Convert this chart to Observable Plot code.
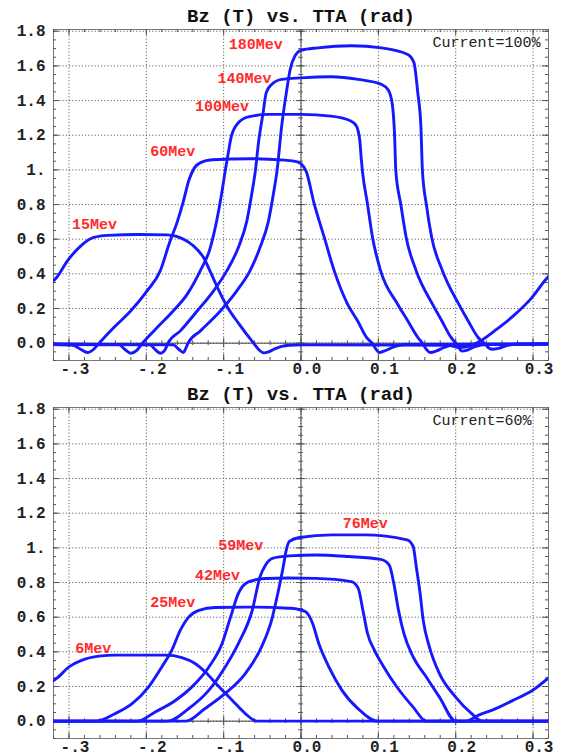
<!DOCTYPE html>
<html>
<head>
<meta charset="utf-8">
<script src="https://cdn.jsdelivr.net/npm/d3@7"></script>
<script src="https://cdn.jsdelivr.net/npm/@observablehq/plot@0.6"></script>
<style>
  html, body { margin: 0; padding: 0; background: #fff; }
  #chart svg { display: block; }
</style>
</head>
<body>
<div id="chart"></div>
<script>
// ---------- tick labels ----------
const xTicks = [-0.3, -0.2, -0.1, 0, 0.1, 0.2, 0.3];
const xTickLabels = ["-.3", "-.2", "-.1", "0.0", "0.1", "0.2", "0.3"];
const yTicks = [0, 0.2, 0.4, 0.6, 0.8, 1.0, 1.2, 1.4, 1.6, 1.8];
const yTickLabels = ["0.0", "0.2", "0.4", "0.6", "0.8", "1.", "1.2", "1.4", "1.6", "1.8"];

const chartTitle = "Bz (T) vs. TTA (rad)";

// ---------- Panel 1 : Current = 100% ----------
const current1 = "Current=100%";
const names1 = ["15Mev", "60Mev", "100Mev", "140Mev", "180Mev"];
const labelX1 = [-0.296, -0.195, -0.137, -0.108, -0.0935];
const labelY1 = [0.686, 1.108, 1.368, 1.531, 1.723];

const bz100_15 = [[-0.32,0.36],[-0.316,0.379],[-0.302,0.475],[-0.285,0.56],[-0.268,0.61],[-0.25,0.622],[-0.21,0.627],[-0.173,0.625],[-0.16,0.615],[-0.15,0.595],[-0.14,0.565],[-0.126,0.494],[-0.117,0.41],[-0.109,0.331],[-0.096,0.215],[-0.08,0.11],[-0.0613,0.0],[-0.054,-0.04],[-0.048,-0.056],[-0.042,-0.05],[-0.035,-0.035],[-0.025,-0.018],[-0.015,-0.012],[0.0,-0.01],[0.19,-0.012],[0.205,-0.025],[0.215,-0.02],[0.227,0.0],[0.255,0.087],[0.276,0.163],[0.298,0.26],[0.317,0.37],[0.32,0.385]];
const bz100_60 = [[-0.32,-0.008],[-0.295,-0.012],[-0.285,-0.035],[-0.276,-0.054],[-0.268,-0.035],[-0.261,0],[-0.242,0.09],[-0.22,0.187],[-0.199,0.302],[-0.182,0.417],[-0.17,0.58],[-0.16,0.7],[-0.152,0.82],[-0.145,0.94],[-0.138,1.01],[-0.13,1.042],[-0.115,1.058],[-0.064,1.064],[-0.021,1.056],[-0.006,1.048],[0.0,1.035],[0.0065,0.994],[0.0172,0.802],[0.0301,0.61],[0.043,0.417],[0.0602,0.225],[0.0731,0.129],[0.0847,0.033],[0.092,0],[0.097,-0.035],[0.101,-0.054],[0.108,-0.045],[0.118,-0.025],[0.135,-0.008],[0.32,-0.005]];
const bz100_100 = [[-0.32,-0.006],[-0.235,-0.01],[-0.228,-0.035],[-0.22,-0.058],[-0.212,-0.04],[-0.205,0],[-0.186,0.09],[-0.165,0.187],[-0.147,0.283],[-0.13,0.42],[-0.118,0.54],[-0.109,0.706],[-0.102,0.879],[-0.098,0.994],[-0.094,1.099],[-0.09,1.195],[-0.081,1.272],[-0.068,1.306],[-0.042,1.32],[0.0,1.32],[0.039,1.31],[0.065,1.281],[0.072,1.25],[0.076,1.17],[0.078,1.06],[0.0795,0.99],[0.086,0.802],[0.0925,0.61],[0.103,0.417],[0.125,0.225],[0.138,0.129],[0.151,0.033],[0.157,0],[0.162,-0.035],[0.167,-0.054],[0.175,-0.045],[0.185,-0.025],[0.2,-0.008],[0.32,-0.005]];
const bz100_140 = [[-0.32,-0.006],[-0.195,-0.01],[-0.189,-0.035],[-0.182,-0.058],[-0.176,-0.04],[-0.172,0],[-0.156,0.071],[-0.134,0.187],[-0.113,0.302],[-0.096,0.417],[-0.081,0.552],[-0.07,0.706],[-0.063,0.879],[-0.059,0.994],[-0.055,1.156],[-0.049,1.329],[-0.045,1.444],[-0.038,1.493],[-0.025,1.522],[0.0,1.531],[0.039,1.537],[0.074,1.522],[0.104,1.493],[0.113,1.46],[0.118,1.38],[0.121,1.2],[0.1226,0.994],[0.129,0.802],[0.136,0.61],[0.149,0.417],[0.17,0.225],[0.182,0.129],[0.194,0.033],[0.2,0],[0.204,-0.025],[0.208,-0.046],[0.215,-0.04],[0.225,-0.02],[0.24,-0.008],[0.32,-0.005]];
const bz100_180 = [[-0.32,-0.006],[-0.165,-0.01],[-0.158,-0.035],[-0.152,-0.054],[-0.149,-0.03],[-0.146,0],[-0.13,0.071],[-0.104,0.187],[-0.083,0.302],[-0.066,0.417],[-0.053,0.552],[-0.042,0.706],[-0.035,0.879],[-0.031,0.994],[-0.025,1.252],[-0.019,1.444],[-0.014,1.579],[-0.008,1.656],[0.0,1.69],[0.022,1.704],[0.065,1.716],[0.104,1.704],[0.138,1.666],[0.146,1.62],[0.151,1.444],[0.155,1.252],[0.157,0.994],[0.162,0.802],[0.169,0.61],[0.183,0.417],[0.204,0.225],[0.216,0.129],[0.229,0.033],[0.237,0],[0.242,-0.025],[0.247,-0.035],[0.255,-0.03],[0.265,-0.015],[0.28,-0.006],[0.32,-0.005]];

// ---------- Panel 2 : Current = 60% ----------
const current2 = "Current=60%";
const names2 = ["6Mev", "25Mev", "42Mev", "59Mev", "76Mev"];
const labelX2 = [-0.292, -0.195, -0.137, -0.107, 0.054];
const labelY2 = [0.42, 0.686, 0.844, 1.017, 1.143];

const bz60_6 = [[-0.32,0.235],[-0.316,0.247],[-0.3,0.313],[-0.283,0.352],[-0.261,0.375],[-0.24,0.381],[-0.175,0.381],[-0.154,0.367],[-0.137,0.333],[-0.124,0.285],[-0.106,0.198],[-0.089,0.121],[-0.072,0.044],[-0.057,0],[0.213,0],[0.229,0.033],[0.251,0.071],[0.274,0.12],[0.3,0.18],[0.32,0.25]];
const bz60_25 = [[-0.32,0],[-0.266,0],[-0.24,0.044],[-0.218,0.102],[-0.197,0.198],[-0.18,0.313],[-0.167,0.41],[-0.156,0.525],[-0.145,0.602],[-0.132,0.64],[-0.111,0.656],[-0.06,0.658],[-0.0165,0.652],[-0.006,0.648],[0.006,0.631],[0.015,0.564],[0.023,0.448],[0.036,0.313],[0.053,0.178],[0.074,0.071],[0.099,0],[0.32,0]];
const bz60_42 = [[-0.32,0],[-0.212,0],[-0.188,0.054],[-0.162,0.121],[-0.141,0.198],[-0.119,0.313],[-0.102,0.448],[-0.091,0.602],[-0.081,0.737],[-0.068,0.804],[-0.046,0.823],[-0.016,0.826],[0.019,0.824],[0.065,0.805],[0.074,0.766],[0.08,0.641],[0.086,0.506],[0.095,0.409],[0.107,0.313],[0.124,0.197],[0.145,0.081],[0.162,0],[0.32,0]];
const bz60_59 = [[-0.32,0],[-0.173,0],[-0.145,0.073],[-0.119,0.179],[-0.098,0.313],[-0.081,0.448],[-0.063,0.64],[-0.053,0.833],[-0.046,0.9],[-0.037,0.94],[-0.015,0.954],[0.019,0.959],[0.061,0.95],[0.103,0.934],[0.114,0.902],[0.12,0.795],[0.126,0.641],[0.133,0.506],[0.145,0.371],[0.162,0.255],[0.179,0.139],[0.2,0],[0.32,0]];
const bz60_76 = [[-0.32,0],[-0.149,0],[-0.124,0.073],[-0.098,0.16],[-0.072,0.275],[-0.051,0.429],[-0.038,0.583],[-0.03,0.737],[-0.023,0.89],[-0.019,0.988],[-0.015,1.037],[-0.002,1.06],[0.04,1.075],[0.082,1.075],[0.137,1.046],[0.145,1.008],[0.149,0.892],[0.154,0.737],[0.158,0.583],[0.166,0.429],[0.179,0.274],[0.2,0.139],[0.221,0.042],[0.234,0],[0.32,0]];

// ---------- layout / style ----------
const X_DOMAIN = [-0.32, 0.32];
const Y_DOMAIN = [-0.1, 1.81];
const W = 561, H = 378, ML = 53, MR = 13, MT = 29, MB = 18;
const kx = (W - ML - MR) / (X_DOMAIN[1] - X_DOMAIN[0]);
const ky = (H - MT - MB) / (Y_DOMAIN[1] - Y_DOMAIN[0]);
const FONT = "'Liberation Mono', 'DejaVu Sans Mono', monospace";
const BLUE = "#1818ff";
const RED = "#ff2a2a";

const xMinor = d3.range(-0.32, 0.3201, 0.02).map(v => Math.round(v * 100) / 100);
const yMinor = d3.range(-0.1, 1.8001, 0.05).map(v => Math.round(v * 100) / 100);
const xLab = new Map(xTicks.map((t, i) => [t, xTickLabels[i]]));
const yLab = new Map(yTicks.map((t, i) => [t, yTickLabels[i]]));

function tickMarks() {
  const [x0, x1] = X_DOMAIN, [y0, y1] = Y_DOMAIN;
  const s = {stroke: "#555", strokeWidth: 1};
  const out = [];
  for (const [vals, len] of [[xMinor, 3], [xTicks, 6]]) {
    const ly = len / ky;
    out.push(Plot.ruleX(vals, {x: d => d, y1: y0, y2: y0 + ly, ...s}));
    out.push(Plot.ruleX(vals, {x: d => d, y1: y1 - ly, y2: y1, ...s}));
    out.push(Plot.ruleX(vals, {x: d => d, y1: -ly * 0.8, y2: ly * 0.8, ...s}));
  }
  for (const [vals, len] of [[yMinor, 3], [yTicks, 6]]) {
    const lx = len / kx;
    out.push(Plot.ruleY(vals, {y: d => d, x1: x0, x2: x0 + lx, ...s}));
    out.push(Plot.ruleY(vals, {y: d => d, x1: x1 - lx, x2: x1, ...s}));
    out.push(Plot.ruleY(vals, {y: d => d, x1: -lx * 0.8, x2: lx * 0.8, ...s}));
  }
  return out;
}

function panel(series, names, lx, ly, current) {
  const rows = series.flatMap((pts, k) => pts.map(([x, y]) => ({x, y, s: names[k]})));
  const labels = names.map((t, i) => ({t, x: lx[i], y: ly[i]}));
  return Plot.plot({
    width: W, height: H,
    marginLeft: ML, marginRight: MR, marginTop: MT, marginBottom: MB,
    x: {domain: X_DOMAIN},
    y: {domain: Y_DOMAIN},
    style: {fontFamily: FONT, background: "#fff", overflow: "visible"},
    marks: [
      Plot.ruleX(xTicks, {x: d => d, stroke: "#666", strokeWidth: 1, strokeDasharray: "1.2,2"}),
      Plot.ruleY(yTicks, {y: d => d, stroke: "#666", strokeWidth: 1, strokeDasharray: "1.2,2"}),
      Plot.ruleX([0], {stroke: "#444", strokeWidth: 1}),
      Plot.ruleY([0], {stroke: "#444", strokeWidth: 1}),
      Plot.frame({stroke: "#777", strokeWidth: 1}),
      ...tickMarks(),
      Plot.line(rows, {x: "x", y: "y", z: "s", stroke: BLUE, strokeWidth: 2.9,
        curve: "monotone-x", clip: true}),
      Plot.text(labels, {x: "x", y: "y", text: "t", textAnchor: "start", fill: RED,
        fontSize: 15, fontWeight: "bold", fontFamily: FONT}),
      Plot.text([current], {text: d => d, frameAnchor: "top-left", dx: 379, dy: 13,
        lineAnchor: "middle", textAnchor: "start", fill: "#222", fontSize: 15, fontFamily: FONT}),
      Plot.text([chartTitle], {text: d => d, frameAnchor: "top", dy: -14, lineAnchor: "middle",
        fill: "#111", fontSize: 19, fontWeight: "bold", fontFamily: FONT}),
      Plot.axisX({ticks: xTicks, tickFormat: d => xLab.get(d), tickSize: 0, tickPadding: 2,
        dx: 6, label: null, fontSize: 16, fontWeight: "bold", color: "#222"}),
      Plot.axisY({ticks: yTicks, tickFormat: d => yLab.get(d), tickSize: 0, tickPadding: 8,
        label: null, fontSize: 16, fontWeight: "bold", color: "#222"})
    ]
  });
}

const root = document.getElementById("chart");
root.append(panel([bz100_15, bz100_60, bz100_100, bz100_140, bz100_180], names1, labelX1, labelY1, current1));
root.append(panel([bz60_6, bz60_25, bz60_42, bz60_59, bz60_76], names2, labelX2, labelY2, current2));
</script>
</body>
</html>
